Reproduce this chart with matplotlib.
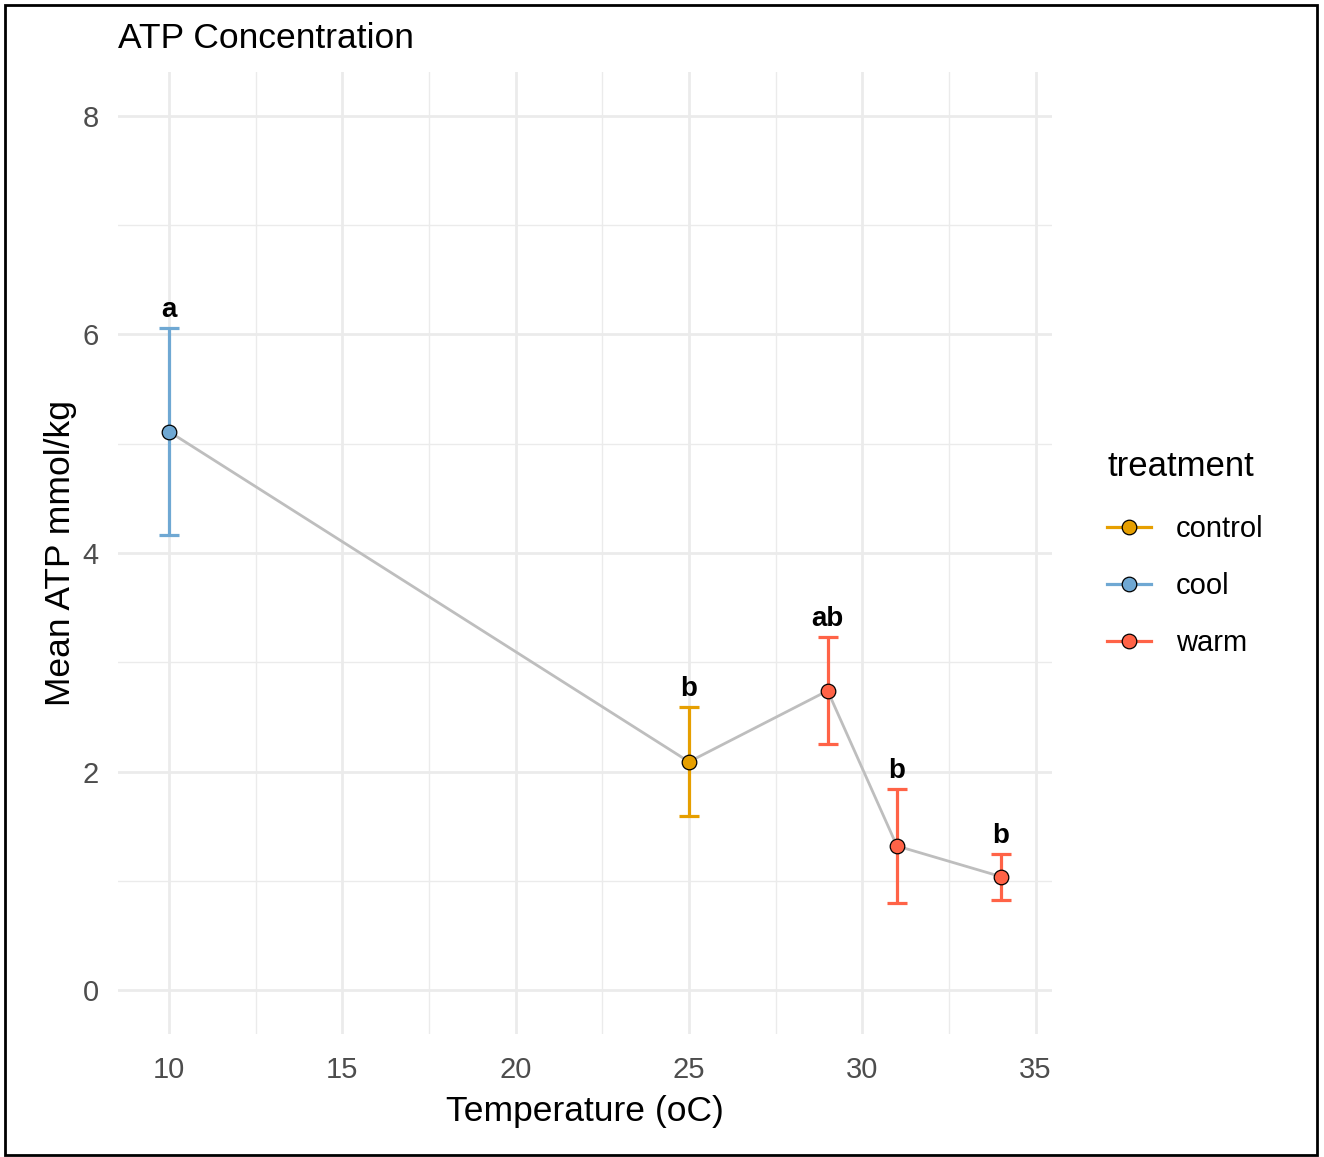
"""ATP concentration by temperature, ggplot-minimal look in matplotlib."""

import matplotlib.pyplot as plt
from matplotlib.lines import Line2D
from matplotlib.patches import Rectangle

plt.rcParams["font.family"] = ["Liberation Sans", "DejaVu Sans"]

# data
temps = [10, 25, 29, 31, 34]
mean_atp = [5.11, 2.09, 2.74, 1.32, 1.04]
se_atp = [0.945, 0.50, 0.49, 0.52, 0.21]
treatment = ["cool", "control", "warm", "warm", "warm"]
letters = ["a", "b", "ab", "b", "b"]

groups = ["control", "cool", "warm"]
colors = {"control": "#E69F00", "cool": "#6FA8D3", "warm": "#FF6347"}

x_ticks = [10, 15, 20, 25, 30, 35]
x_minor = [12.5, 17.5, 22.5, 27.5, 32.5]
y_ticks = [0, 2, 4, 6, 8]
y_minor = [1, 3, 5, 7]

fig = plt.figure(figsize=(13.24, 11.57), dpi=100)
ax = fig.add_axes([0.0891, 0.1063, 0.7055, 0.8315])

# grid like theme_minimal
for v in x_ticks:
    ax.axvline(v, color="#EBEBEB", lw=2.0, zorder=0)
for v in x_minor:
    ax.axvline(v, color="#EBEBEB", lw=1.0, zorder=0)
for v in y_ticks:
    ax.axhline(v, color="#EBEBEB", lw=2.0, zorder=0)
for v in y_minor:
    ax.axhline(v, color="#EBEBEB", lw=1.0, zorder=0)

for t, m, s, g in zip(temps, mean_atp, se_atp, treatment):
    ax.errorbar(t, m, yerr=s, color=colors[g], lw=2.3, capsize=7.5,
                capthick=2.3, fmt="none", zorder=2)

ax.plot(temps, mean_atp, color="#BEBEBE", lw=2.0, zorder=3)

for t, m, g in zip(temps, mean_atp, treatment):
    ax.plot(t, m, "o", ms=10.5, mfc=colors[g], mec="black", mew=0.9, zorder=4)

for t, m, s, lab in zip(temps, mean_atp, se_atp, letters):
    ax.text(t, m + s + 0.1, lab, ha="center", va="baseline",
            fontsize=20, fontweight="bold", zorder=5)

ax.set_xlim(8.525, 35.475)
ax.set_ylim(-0.4, 8.4)
ax.set_xticks(x_ticks)
ax.set_yticks(y_ticks)
ax.tick_params(length=0, labelsize=21, labelcolor="#4D4D4D")
ax.tick_params(axis="x", pad=16)
ax.tick_params(axis="y", pad=14)
for sp in ax.spines.values():
    sp.set_visible(False)

ax.set_xlabel("Temperature (oC)", fontsize=25.5, labelpad=8)
ax.set_ylabel("Mean ATP mmol/kg", fontsize=25.5, labelpad=4)
ax.set_title("ATP Concentration", fontsize=25.5, loc="left", pad=17)

handles = [Line2D([0], [0], color=colors[g], lw=2.3, marker="o", ms=10.5,
                  mfc=colors[g], mec="black", mew=0.9) for g in groups]
leg = fig.legend(handles, groups, title="treatment", loc="upper left",
                 bbox_to_anchor=(0.8275, 0.621), frameon=False, fontsize=21,
                 title_fontsize=25, handlelength=1.5, handletextpad=0.85,
                 labelspacing=1.0, borderaxespad=0)
leg._legend_box.align = "left"
leg._legend_box.sep = 23

# black frame around the whole picture
fig.patches.append(Rectangle((0.004, 0.002), 0.991, 0.994, transform=fig.transFigure,
                             fill=False, edgecolor="black", lw=2.0))

fig.savefig("out.png", dpi=100)
